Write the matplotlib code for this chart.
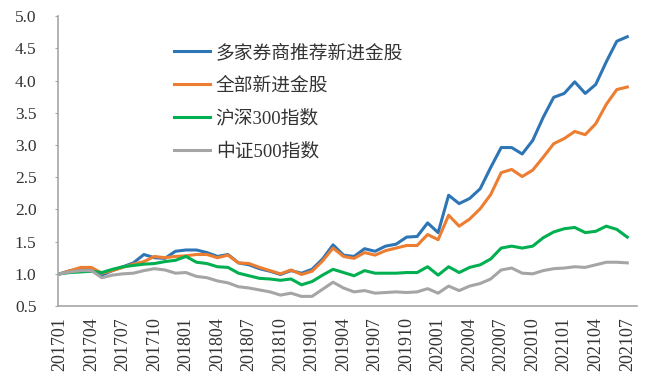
import matplotlib
matplotlib.use("Agg")
import numpy as np
from matplotlib import pyplot as plt

# monthly, 201701 .. 202107
months = [f"{y}{m:02d}" for y in range(2017, 2022) for m in range(1, 13)][:55]

broker_picks = [1.00, 1.05, 1.07, 1.07, 0.98, 1.05, 1.11, 1.17, 1.30, 1.25,
                1.24, 1.35, 1.37, 1.37, 1.33, 1.27, 1.30, 1.17, 1.14, 1.08,
                1.04, 0.99, 1.05, 1.01, 1.07, 1.23, 1.45, 1.29, 1.27, 1.39,
                1.35, 1.43, 1.46, 1.57, 1.58, 1.79, 1.64, 2.22, 2.09, 2.17,
                2.32, 2.65, 2.96, 2.96, 2.86, 3.07, 3.43, 3.74, 3.80, 3.98,
                3.80, 3.94, 4.29, 4.61, 4.68]
all_new = [1.00, 1.05, 1.10, 1.10, 1.01, 1.05, 1.10, 1.15, 1.19, 1.27,
           1.25, 1.27, 1.28, 1.30, 1.30, 1.25, 1.29, 1.17, 1.16, 1.10,
           1.05, 1.00, 1.06, 0.99, 1.04, 1.20, 1.40, 1.27, 1.24, 1.33,
           1.29, 1.36, 1.40, 1.44, 1.44, 1.61, 1.53, 1.91, 1.74, 1.85,
           2.01, 2.23, 2.57, 2.62, 2.51, 2.61, 2.81, 3.02, 3.10, 3.21,
           3.16, 3.33, 3.63, 3.86, 3.90]
hs300 = [1.00, 1.02, 1.03, 1.04, 1.02, 1.07, 1.11, 1.13, 1.15, 1.16,
         1.19, 1.21, 1.27, 1.18, 1.16, 1.11, 1.10, 1.01, 0.97, 0.93,
         0.92, 0.90, 0.92, 0.83, 0.88, 0.98, 1.07, 1.02, 0.97, 1.05,
         1.01, 1.01, 1.01, 1.02, 1.02, 1.11, 0.98, 1.11, 1.02, 1.10,
         1.14, 1.23, 1.40, 1.43, 1.40, 1.43, 1.56, 1.65, 1.70, 1.72,
         1.64, 1.66, 1.74, 1.69, 1.57]
csi500 = [1.00, 1.03, 1.05, 1.05, 0.94, 0.98, 1.00, 1.01, 1.05, 1.08,
          1.06, 1.01, 1.02, 0.96, 0.94, 0.89, 0.86, 0.80, 0.78, 0.75,
          0.72, 0.67, 0.70, 0.65, 0.65, 0.76, 0.87, 0.78, 0.72, 0.74,
          0.70, 0.71, 0.72, 0.71, 0.72, 0.77, 0.70, 0.81, 0.74, 0.81,
          0.85, 0.92, 1.06, 1.09, 1.01, 1.00, 1.05, 1.08, 1.09, 1.11,
          1.10, 1.14, 1.18, 1.18, 1.17]

labels = ["多家券商推荐新进金股", "全部新进金股", "沪深300指数", "中证500指数"]
colors = ["#2E75B6", "#ED7D31", "#00B050", "#A5A5A5"]

fig = plt.figure(figsize=(6.45, 3.84), dpi=100)
ax = fig.add_axes([0.09, 0.203, 0.898, 0.755])

x = np.arange(len(months))
for series, lab, c in zip([broker_picks, all_new, hs300, csi500], labels, colors):
    ax.plot(x, series, color=c, lw=2.2, label=lab)

ax.set_xlim(-0.17, 54.95)
ax.set_ylim(0.5, 5.0)
ax.set_yticks(np.arange(0.5, 5.01, 0.5))
ax.set_yticklabels([f"{v:.1f}" for v in np.arange(0.5, 5.01, 0.5)])
ax.set_xticks(x[::3])
ax.set_xticklabels(months[::3], rotation=90)

for s in ["top", "right"]:
    ax.spines[s].set_visible(False)
for s in ["left", "bottom"]:
    ax.spines[s].set_color("#A6A6A6")
    ax.spines[s].set_linewidth(1.2)

ax.tick_params(axis="y", length=2.5, color="#A6A6A6", labelsize=12.5, pad=13)
ax.tick_params(axis="x", length=0, labelsize=13, pad=8)
for t in ax.get_xticklabels() + ax.get_yticklabels():
    t.set_fontfamily("Liberation Serif")
    t.set_color("#333333")

leg = ax.legend(loc="upper left", bbox_to_anchor=(0.256, 0.91),
                bbox_transform=fig.transFigure, frameon=False,
                handlelength=1.87, handletextpad=0.33, labelspacing=0.82,
                borderpad=0, prop={"family": ["Liberation Serif", "Noto Sans CJK SC"], "size": 13.5})
for t in leg.get_texts():
    t.set_color("#333333")

fig.savefig("out.png", dpi=100)
